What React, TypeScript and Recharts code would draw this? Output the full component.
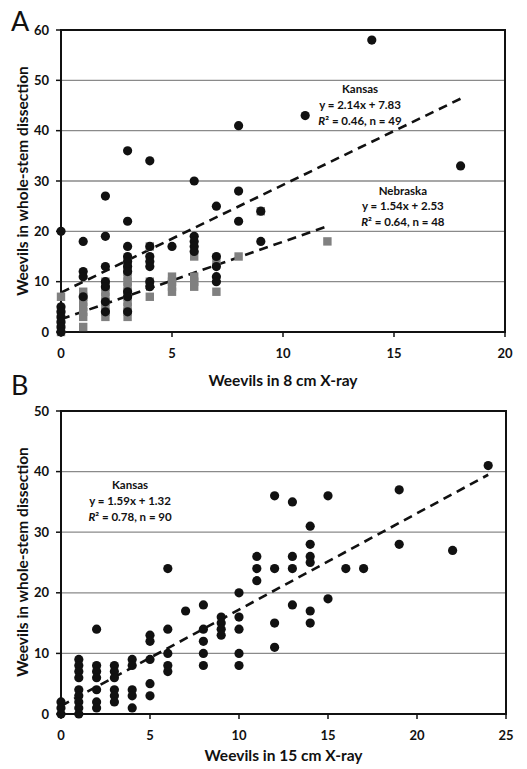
import React from "react";
import {
  ScatterChart,
  Scatter,
  XAxis,
  YAxis,
  CartesianGrid,
  ReferenceLine,
  ReferenceArea,
  ReferenceDot,
} from "recharts";

type Pt = { x: number; y: number };

// ---------- Panel A data ----------
const kansasA: Pt[] = [
  { x: 0, y: 20 }, { x: 0, y: 5 }, { x: 0, y: 4 }, { x: 0, y: 3 }, { x: 0, y: 2 }, { x: 0, y: 1 }, { x: 0, y: 0 },
  { x: 1, y: 18 }, { x: 1, y: 12 }, { x: 1, y: 11 }, { x: 1, y: 7 },
  { x: 2, y: 27 }, { x: 2, y: 19 }, { x: 2, y: 13 }, { x: 2, y: 10 }, { x: 2, y: 9 }, { x: 2, y: 6 }, { x: 2, y: 4 },
  { x: 3, y: 36 }, { x: 3, y: 22 }, { x: 3, y: 17 }, { x: 3, y: 15 }, { x: 3, y: 14 }, { x: 3, y: 13 }, { x: 3, y: 12 }, { x: 3, y: 8 }, { x: 3, y: 7 }, { x: 3, y: 4 },
  { x: 4, y: 34 }, { x: 4, y: 17 }, { x: 4, y: 15 }, { x: 4, y: 14 }, { x: 4, y: 13 }, { x: 4, y: 10 }, { x: 4, y: 9 },
  { x: 5, y: 17 },
  { x: 6, y: 30 }, { x: 6, y: 19 }, { x: 6, y: 18 }, { x: 6, y: 17 }, { x: 6, y: 16 },
  { x: 7, y: 25 }, { x: 7, y: 15 }, { x: 7, y: 13 }, { x: 7, y: 11 }, { x: 7, y: 10 },
  { x: 8, y: 41 }, { x: 8, y: 28 }, { x: 8, y: 22 },
  { x: 9, y: 24 }, { x: 9, y: 18 },
  { x: 11, y: 43 }, { x: 14, y: 58 }, { x: 18, y: 33 },
];

const nebraskaA: Pt[] = [
  { x: 0, y: 7 }, { x: 0, y: 4 }, { x: 0, y: 2 }, { x: 0, y: 0 },
  { x: 1, y: 8 }, { x: 1, y: 7 }, { x: 1, y: 6 }, { x: 1, y: 5 }, { x: 1, y: 4 }, { x: 1, y: 3 }, { x: 1, y: 1 },
  { x: 2, y: 10 }, { x: 2, y: 9 }, { x: 2, y: 8 }, { x: 2, y: 7 }, { x: 2, y: 6 }, { x: 2, y: 5 }, { x: 2, y: 4 }, { x: 2, y: 3 },
  { x: 3, y: 14 }, { x: 3, y: 13 }, { x: 3, y: 12 }, { x: 3, y: 11 }, { x: 3, y: 10 }, { x: 3, y: 9 }, { x: 3, y: 8 }, { x: 3, y: 7 }, { x: 3, y: 6 }, { x: 3, y: 5 }, { x: 3, y: 4 }, { x: 3, y: 3 },
  { x: 4, y: 17 }, { x: 4, y: 10 }, { x: 4, y: 7 },
  { x: 5, y: 11 }, { x: 5, y: 10 }, { x: 5, y: 9 }, { x: 5, y: 8 },
  { x: 6, y: 15 }, { x: 6, y: 11 }, { x: 6, y: 10 }, { x: 6, y: 9 },
  { x: 7, y: 14 }, { x: 7, y: 8 },
  { x: 8, y: 15 },
  { x: 9, y: 24 },
  { x: 12, y: 18 },
];

const xTicksA = [0, 5, 10, 15, 20];
const yTicksA = [0, 10, 20, 30, 40, 50, 60];

// regression lines (from printed equations): slope, intercept, x range
const kansasAFit = { slope: 2.14, intercept: 7.83, x0: 0, x1: 18 };
const nebraskaAFit = { slope: 1.54, intercept: 2.53, x0: 0, x1: 12 };

// ---------- Panel B data ----------
const kansasB: Pt[] = [
  { x: 0, y: 2 }, { x: 0, y: 1 }, { x: 0, y: 0 },
  { x: 1, y: 9 }, { x: 1, y: 8 }, { x: 1, y: 7 }, { x: 1, y: 6 }, { x: 1, y: 4 }, { x: 1, y: 3 }, { x: 1, y: 2 }, { x: 1, y: 1 }, { x: 1, y: 0 },
  { x: 2, y: 14 }, { x: 2, y: 8 }, { x: 2, y: 7 }, { x: 2, y: 6 }, { x: 2, y: 4 }, { x: 2, y: 2 }, { x: 2, y: 1 },
  { x: 3, y: 8 }, { x: 3, y: 7 }, { x: 3, y: 6 }, { x: 3, y: 4 }, { x: 3, y: 3 }, { x: 3, y: 2 },
  { x: 4, y: 9 }, { x: 4, y: 8 }, { x: 4, y: 4 }, { x: 4, y: 3 }, { x: 4, y: 1 },
  { x: 5, y: 13 }, { x: 5, y: 12 }, { x: 5, y: 9 }, { x: 5, y: 5 }, { x: 5, y: 3 },
  { x: 6, y: 24 }, { x: 6, y: 14 }, { x: 6, y: 10 }, { x: 6, y: 8 }, { x: 6, y: 7 },
  { x: 7, y: 17 },
  { x: 8, y: 18 }, { x: 8, y: 14 }, { x: 8, y: 12 }, { x: 8, y: 10 }, { x: 8, y: 8 },
  { x: 9, y: 16 }, { x: 9, y: 15 }, { x: 9, y: 14 }, { x: 9, y: 13 },
  { x: 10, y: 20 }, { x: 10, y: 16 }, { x: 10, y: 14 }, { x: 10, y: 10 }, { x: 10, y: 8 },
  { x: 11, y: 26 }, { x: 11, y: 24 }, { x: 11, y: 22 },
  { x: 12, y: 36 }, { x: 12, y: 24 }, { x: 12, y: 15 }, { x: 12, y: 11 },
  { x: 13, y: 35 }, { x: 13, y: 26 }, { x: 13, y: 24 }, { x: 13, y: 18 },
  { x: 14, y: 31 }, { x: 14, y: 28 }, { x: 14, y: 26 }, { x: 14, y: 25 }, { x: 14, y: 17 }, { x: 14, y: 15 },
  { x: 15, y: 36 }, { x: 15, y: 19 },
  { x: 16, y: 24 }, { x: 17, y: 24 },
  { x: 19, y: 37 }, { x: 19, y: 28 },
  { x: 22, y: 27 }, { x: 24, y: 41 },
];

const xTicksB = [0, 5, 10, 15, 20, 25];
const yTicksB = [0, 10, 20, 30, 40, 50];
const kansasBFit = { slope: 1.59, intercept: 1.32, x0: 0, x1: 24 };

// annotations
const annoKansasA = { x: 13.47, y: 48.3, lines: ["Kansas", "y = 2.14x + 7.83", "0.46, n = 49"] };
const annoNebraskaA = { x: 15.4, y: 28.2, lines: ["Nebraska", "y = 1.54x + 2.53", "0.64, n = 48"] };
const annoKansasB = { x: 3.88, y: 37.8, lines: ["Kansas", "y = 1.59x + 1.32", "0.78, n = 90"] };

const FONT = "Lato, 'Open Sans', 'DejaVu Sans', sans-serif";
const INK = "#111";

const Circle = (props: any) => (
  <circle cx={props.cx} cy={props.cy} r={4.6} fill={INK} />
);
const Square = (props: any) => (
  <rect x={props.cx - 4.2} y={props.cy - 4.2} width={8.4} height={8.4} fill="#808080" />
);

const fitSegment = (f: { slope: number; intercept: number; x0: number; x1: number }) => [
  { x: f.x0, y: f.slope * f.x0 + f.intercept },
  { x: f.x1, y: f.slope * f.x1 + f.intercept },
];

const makeAnno = (lines: string[]) => (props: any) => {
  const { cx, cy } = props;
  return (
    <g>
      {lines.map((t, i) => (
        <text
          key={i}
          x={cx}
          y={cy + i * 15.5}
          textAnchor="middle"
          dominantBaseline="central"
          fontFamily={FONT}
          fontWeight={700}
          fontSize={11.5}
          fill={INK}
        >
          {i === 2 ? (
            <>
              <tspan fontStyle="italic">R</tspan>
              <tspan>{"\u00B2 = " + t}</tspan>
            </>
          ) : (
            t
          )}
        </text>
      ))}
    </g>
  );
};

const tickStyle = { fontSize: 13, fontWeight: 700, fill: INK, fontFamily: FONT };

const titleStyle: React.CSSProperties = {
  position: "absolute",
  fontFamily: FONT,
  fontWeight: 700,
  fontSize: 15.5,
  color: INK,
  whiteSpace: "nowrap",
};

export default function App() {
  return (
    <div style={{ position: "absolute", left: 0, top: 0, width: 527, height: 769, background: "#fff" }}>
      {/* Panel A */}
      <div style={{ position: "absolute", left: 0, top: 0 }}>
        <ScatterChart width={527} height={390} margin={{ top: 30, right: 22, left: 16, bottom: 28 }}>
          <CartesianGrid vertical={false} stroke="#8a8a8a" strokeWidth={1.3} />
          <XAxis
            type="number"
            dataKey="x"
            domain={[0, 20]}
            ticks={xTicksA}
            height={30}
            axisLine={{ stroke: INK, strokeWidth: 2 }}
            tickLine={{ stroke: INK, strokeWidth: 1.5 }}
            tickSize={5}
            tickMargin={12}
            tick={tickStyle}
          />
          <YAxis
            type="number"
            dataKey="y"
            domain={[0, 60]}
            ticks={yTicksA}
            width={45}
            axisLine={{ stroke: INK, strokeWidth: 2 }}
            tickLine={{ stroke: INK, strokeWidth: 1.5 }}
            tickSize={5}
            tickMargin={7}
            tick={tickStyle}
          />
          <ReferenceArea x1={0} x2={20} y1={0} y2={60} fill="none" fillOpacity={0} stroke={INK} strokeWidth={2} />
          <Scatter data={nebraskaA} shape={Square} isAnimationActive={false} />
          <Scatter data={kansasA} shape={Circle} isAnimationActive={false} />
          <ReferenceLine segment={fitSegment(kansasAFit)} stroke={INK} strokeWidth={2.6} strokeDasharray="9 6" />
          <ReferenceLine segment={fitSegment(nebraskaAFit)} stroke={INK} strokeWidth={2.6} strokeDasharray="9 6" />
          <ReferenceDot x={annoKansasA.x} y={annoKansasA.y} r={0} shape={makeAnno(annoKansasA.lines)} />
          <ReferenceDot x={annoNebraskaA.x} y={annoNebraskaA.y} r={0} shape={makeAnno(annoNebraskaA.lines)} />
        </ScatterChart>
      </div>
      <div style={{ position: "absolute", left: 11, top: 4, fontFamily: FONT, fontSize: 27, color: INK }}>A</div>
      <div style={{ ...titleStyle, left: 0, top: 371, width: 527, paddingLeft: 61, boxSizing: "border-box", textAlign: "center", paddingRight: 22 }}>
        Weevils in 8 cm X-ray
      </div>
      <div
        style={{
          ...titleStyle,
          left: 22,
          top: 181,
          transform: "translate(-50%, -50%) rotate(-90deg)",
        }}
      >
        Weevils in whole-stem dissection
      </div>

      {/* Panel B */}
      <div style={{ position: "absolute", left: 0, top: 390 }}>
        <ScatterChart width={527} height={379} margin={{ top: 21, right: 21, left: 16, bottom: 25 }}>
          <CartesianGrid vertical={false} stroke="#8a8a8a" strokeWidth={1.3} />
          <XAxis
            type="number"
            dataKey="x"
            domain={[0, 25]}
            ticks={xTicksB}
            height={30}
            axisLine={{ stroke: INK, strokeWidth: 2 }}
            tickLine={{ stroke: INK, strokeWidth: 1.5 }}
            tickSize={5}
            tickMargin={12}
            tick={tickStyle}
          />
          <YAxis
            type="number"
            dataKey="y"
            domain={[0, 50]}
            ticks={yTicksB}
            width={45}
            axisLine={{ stroke: INK, strokeWidth: 2 }}
            tickLine={{ stroke: INK, strokeWidth: 1.5 }}
            tickSize={5}
            tickMargin={7}
            tick={tickStyle}
          />
          <ReferenceArea x1={0} x2={25} y1={0} y2={50} fill="none" fillOpacity={0} stroke={INK} strokeWidth={2} />
          <Scatter data={kansasB} shape={Circle} isAnimationActive={false} />
          <ReferenceLine segment={fitSegment(kansasBFit)} stroke={INK} strokeWidth={2.6} strokeDasharray="9 6" />
          <ReferenceDot x={annoKansasB.x} y={annoKansasB.y} r={0} shape={makeAnno(annoKansasB.lines)} />
        </ScatterChart>
      </div>
      <div style={{ position: "absolute", left: 11, top: 368, fontFamily: FONT, fontSize: 27, color: INK }}>B</div>
      <div style={{ ...titleStyle, left: 0, top: 746, width: 527, paddingLeft: 61, boxSizing: "border-box", textAlign: "center", paddingRight: 21 }}>
        Weevils in 15 cm X-ray
      </div>
      <div
        style={{
          ...titleStyle,
          left: 22,
          top: 562,
          transform: "translate(-50%, -50%) rotate(-90deg)",
        }}
      >
        Weevils in whole-stem dissection
      </div>
    </div>
  );
}
